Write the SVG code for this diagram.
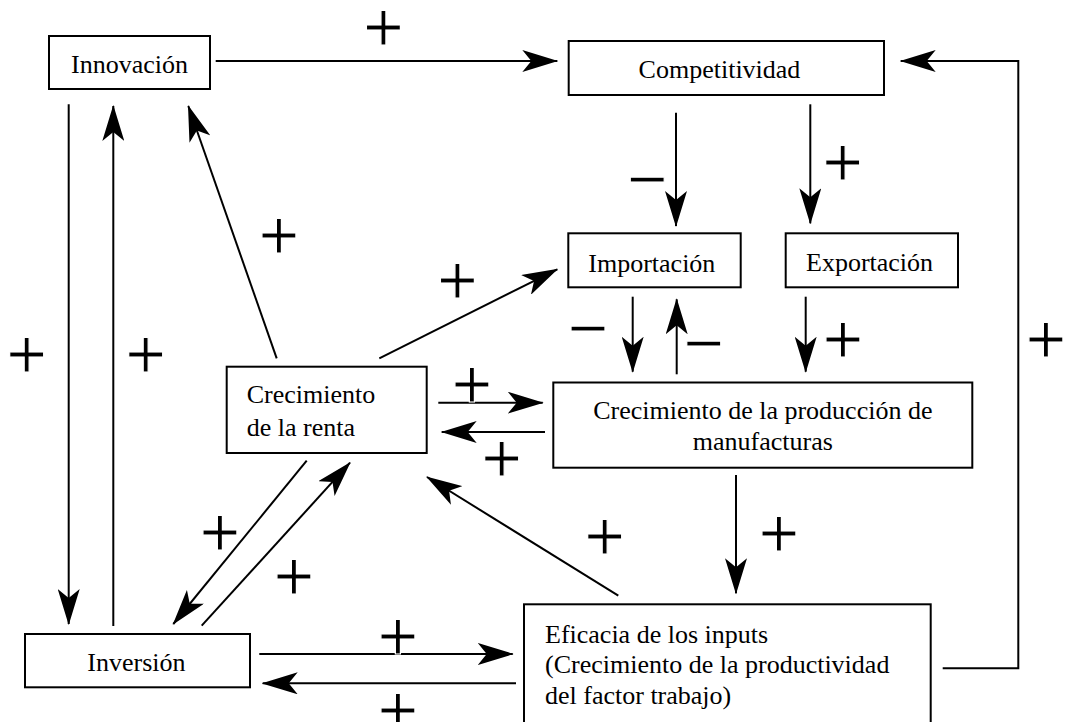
<svg xmlns="http://www.w3.org/2000/svg" width="1066" height="722" viewBox="0 0 1066 722">
<style>
.box{fill:#fff;stroke:#000;stroke-width:2}
.lbl{font-family:"Liberation Serif","Times New Roman",serif;font-size:26px;fill:#000}
.c{text-anchor:middle}
.con{fill:none;stroke:#000;stroke-width:2}
.sg{font-family:"Liberation Sans",Arial,sans-serif;font-size:70px;fill:#000;stroke:#fff;stroke-width:1.2;text-anchor:middle}
</style>
<defs>
<marker id="ah" markerUnits="userSpaceOnUse" markerWidth="36" markerHeight="22" viewBox="0 0 36 22" refX="35" refY="11" orient="auto">
<path d="M0,0 L36,11 L0,22 L9,11 Z" fill="#000"/>
</marker>
</defs>
<rect width="1066" height="722" fill="#fff"/>
<g id="connectors">
<line class="con" x1="215.7" y1="61" x2="557.3" y2="61" marker-end="url(#ah)"/>
<line class="con" x1="68.7" y1="104.3" x2="68.7" y2="624" marker-end="url(#ah)"/>
<line class="con" x1="113.3" y1="626" x2="113.3" y2="106" marker-end="url(#ah)"/>
<line class="con" x1="276.7" y1="358.3" x2="188.3" y2="106" marker-end="url(#ah)"/>
<line class="con" x1="379.3" y1="358.3" x2="557.3" y2="269.3" marker-end="url(#ah)"/>
<line class="con" x1="676" y1="112.7" x2="676" y2="226" marker-end="url(#ah)"/>
<line class="con" x1="810.3" y1="104.3" x2="810.3" y2="223.3" marker-end="url(#ah)"/>
<line class="con" x1="632.7" y1="296.7" x2="632.7" y2="371.7" marker-end="url(#ah)"/>
<line class="con" x1="676.7" y1="374.3" x2="676.7" y2="299.3" marker-end="url(#ah)"/>
<line class="con" x1="805.7" y1="296.7" x2="805.7" y2="371.7" marker-end="url(#ah)"/>
<line class="con" x1="438.3" y1="402.7" x2="542.7" y2="402.7" marker-end="url(#ah)"/>
<line class="con" x1="545" y1="432" x2="441.7" y2="432" marker-end="url(#ah)"/>
<line class="con" x1="736" y1="475" x2="736" y2="593.3" marker-end="url(#ah)"/>
<line class="con" x1="618.3" y1="595.7" x2="427" y2="477" marker-end="url(#ah)"/>
<line class="con" x1="306.7" y1="460.7" x2="173.3" y2="624" marker-end="url(#ah)"/>
<line class="con" x1="201.7" y1="625.7" x2="350" y2="462.7" marker-end="url(#ah)"/>
<line class="con" x1="259.3" y1="654" x2="512.7" y2="654" marker-end="url(#ah)"/>
<line class="con" x1="516" y1="683.3" x2="262.7" y2="683.3" marker-end="url(#ah)"/>
<polyline class="con" points="942.7,668.3 1018.3,668.3 1018.3,61 900.7,61" marker-end="url(#ah)"/>
</g>
<g id="signs">
<text class="sg" x="383.5" y="51">+</text>
<text class="sg" x="279" y="259">+</text>
<text class="sg" x="26.7" y="378">+</text>
<text class="sg" x="145.8" y="377.5">+</text>
<text class="sg" x="457.5" y="304">+</text>
<text class="sg" x="842.7" y="185.5">+</text>
<text class="sg" x="843" y="363">+</text>
<text class="sg" x="1046" y="363">+</text>
<text class="sg" x="472" y="408">+</text>
<text class="sg" x="501.7" y="482">+</text>
<text class="sg" x="779" y="556.5">+</text>
<text class="sg" x="604.7" y="560">+</text>
<text class="sg" x="220" y="556">+</text>
<text class="sg" x="294" y="600">+</text>
<text class="sg" x="398" y="660">+</text>
<text class="sg" x="398" y="734">+</text>
<text class="sg" x="647.5" y="203">−</text>
<text class="sg" x="588.3" y="352">−</text>
<text class="sg" x="704" y="366.5">−</text>
</g>
<g id="innovacion">
<rect class="box" x="49" y="36" width="161" height="53"/>
<text class="lbl c" x="129.5" y="72.7">Innovación</text>
</g>
<g id="competitividad">
<rect class="box" x="568.7" y="41" width="315.3" height="54"/>
<text class="lbl c" x="719.5" y="78.3">Competitividad</text>
</g>
<g id="importacion">
<rect class="box" x="568.3" y="233.3" width="172.4" height="54"/>
<text class="lbl" x="588.3" y="271.5">Importación</text>
</g>
<g id="exportacion">
<rect class="box" x="785.7" y="233.3" width="172.3" height="54"/>
<text class="lbl" x="806" y="271">Exportación</text>
</g>
<g id="renta">
<rect class="box" x="226.7" y="366.7" width="200" height="86.3"/>
<text class="lbl" x="246.7" y="403.3">Crecimiento</text>
<text class="lbl" x="246.7" y="436">de la renta</text>
</g>
<g id="manufacturas">
<rect class="box" x="553.3" y="382.5" width="419" height="85.2"/>
<text class="lbl c" x="762.8" y="419">Crecimiento de la producción de</text>
<text class="lbl c" x="762.8" y="450">manufacturas</text>
</g>
<g id="eficacia">
<rect class="box" x="524" y="604.3" width="406.7" height="130"/>
<text class="lbl" x="545" y="642.5">Eficacia de los inputs</text>
<text class="lbl" x="545" y="673.3">(Crecimiento de la productividad</text>
<text class="lbl" x="545" y="704">del factor trabajo)</text>
</g>
<g id="inversion">
<rect class="box" x="25" y="634" width="225" height="53.3"/>
<text class="lbl" x="87.3" y="670.7">Inversión</text>
</g>
</svg>
